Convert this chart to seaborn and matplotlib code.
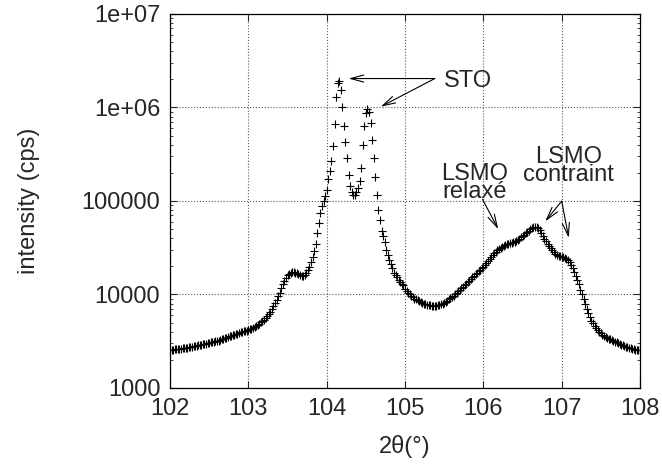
import numpy as np
import pandas as pd
import matplotlib
matplotlib.use('Agg')
from matplotlib import pyplot as plt
from matplotlib.ticker import LogLocator, NullFormatter
import seaborn as sns

two_theta = np.round(np.arange(102.0, 108.0 + 1e-9, 0.02), 2)
intensity = [
    2560, 2570, 2580, 2590, 2600, 2610, 2620, 2640, 2650, 2660,              # 102.00
    2680, 2700, 2720, 2740, 2760, 2780, 2810, 2830, 2860, 2880,              # 102.20
    2900, 2930, 2960, 2990, 3020, 3050, 3080, 3100, 3130, 3160,              # 102.40
    3190, 3220, 3260, 3310, 3360, 3410, 3460, 3510, 3560, 3610,              # 102.60
    3660, 3710, 3760, 3820, 3880, 3930, 3980, 4030, 4080, 4120,              # 102.80
    4160, 4230, 4320, 4420, 4520, 4620, 4740, 4880, 5020, 5180,              # 103.00
    5400, 5630, 5900, 6200, 6550, 7000, 7500, 8100, 8800, 9600,              # 103.20
    10500, 11600, 12800, 14000, 15100, 16000, 16600, 17000, 17200, 17200,    # 103.40
    17100, 16900, 16600, 16200, 15900, 15800, 16200, 17100, 18300, 19800,    # 103.60
    22000, 25000, 29000, 35000, 45000, 58000, 74000, 88000, 99000, 112000,   # 103.80
    130000, 170000, 210000, 270000, 390000, 660000, 1300000, 1850000, 1920000, 1550000,  # 104.00
    1000000, 640000, 430000, 285000, 190000, 145000, 125000, 115000, 116000, 125000,     # 104.20
    138000, 165000, 225000, 400000, 640000, 880000, 965000, 890000, 680000, 450000,      # 104.40
    290000, 180000, 115000, 80000, 62000, 48000, 42000, 36000, 30000, 26500,             # 104.60
    23500, 21000, 19000, 17000, 16000, 15200, 14400, 13700, 13100, 12600,    # 104.80
    11500, 11000, 10500, 10000, 9600, 9300, 9050, 8850, 8650, 8450,          # 105.00
    8300, 8150, 8000, 7900, 7800, 7700, 7650, 7600, 7550, 7550,              # 105.20
    7600, 7650, 7750, 7850, 8000, 8150, 8350, 8600, 8850, 9150,              # 105.40
    9450, 9750, 10100, 10450, 10800, 11200, 11600, 12000, 12500, 13000,      # 105.60
    13500, 14000, 14600, 15200, 15800, 16400, 17000, 17700, 18400, 19100,    # 105.80
    19800, 20700, 21700, 22800, 23900, 25000, 26200, 27500, 28700, 29800,    # 106.00
    30800, 31700, 32500, 33200, 33800, 34300, 34800, 35200, 35600, 36100,    # 106.20
    36700, 37500, 38500, 39600, 40800, 42100, 43500, 45000, 46600, 48200,    # 106.40
    49700, 51100, 52300, 53100, 53000, 51000, 48500, 45500, 42500, 39500,    # 106.60
    37000, 35000, 33200, 31500, 29800, 28500, 27400, 26700, 26100, 25700,    # 106.80
    25300, 24900, 24500, 24000, 23200, 22000, 20800, 19300, 17500, 15800,    # 107.00
    14300, 12800, 11300, 10000, 8900, 7900, 7000, 6300, 5700, 5250,          # 107.20
    4900, 4600, 4350, 4150, 4000, 3850, 3720, 3620, 3530, 3450,              # 107.40
    3380, 3310, 3250, 3190, 3130, 3070, 3010, 2960, 2910, 2860,              # 107.60
    2810, 2770, 2730, 2690, 2660, 2630, 2600, 2580, 2560, 2540,              # 107.80
    2520,                                                                    # 108.00
]

x_ticks = [102, 103, 104, 105, 106, 107, 108]
y_ticks = [1e3, 1e4, 1e5, 1e6, 1e7]
y_tick_labels = ['1000', '10000', '100000', '1e+06', '1e+07']

FS = 17

sns.set_style('ticks')
plt.rcParams['font.family'] = ['Liberation Sans', 'DejaVu Sans']

df = pd.DataFrame({'two_theta': two_theta, 'intensity': intensity})

fig, ax = plt.subplots(figsize=(6.62, 4.65), dpi=100)
fig.subplots_adjust(left=0.2568, right=0.9668, bottom=0.1656, top=0.9699)

sns.scatterplot(data=df, x='two_theta', y='intensity', marker='+', color='black',
                s=30, linewidth=0.8, legend=False, ax=ax, zorder=3)

ax.set_yscale('log')
ax.set_xlim(102, 108)
ax.set_ylim(1e3, 1e7)
ax.set_xticks(x_ticks)
ax.set_xticklabels([str(t) for t in x_ticks])
ax.set_yticks(y_ticks)
ax.set_yticklabels(y_tick_labels)
ax.yaxis.set_minor_locator(LogLocator(base=10, subs=np.arange(2, 10)))
ax.yaxis.set_minor_formatter(NullFormatter())

ax.tick_params(which='both', direction='in', top=True, right=True, labelsize=FS, pad=7)
ax.tick_params(which='major', length=5, width=0.8)
ax.tick_params(which='minor', length=2.5, width=0.6)
for sp in ax.spines.values():
    sp.set_color('black')
    sp.set_linewidth(0.9)

ax.grid(True, which='major', linestyle=':', color='0.35', linewidth=0.8)
ax.set_axisbelow(True)

ax.set_xlabel('2θ(°)', fontsize=FS, labelpad=11)
ax.set_ylabel('intensity (cps)', fontsize=FS, labelpad=30)

# annotations
arrow = dict(arrowstyle='->,head_length=0.55,head_width=0.15', color='black',
             lw=0.8, shrinkA=0, shrinkB=0)
ax.text(105.80, 1.65e6, 'STO', fontsize=FS, ha='center', va='baseline')
ax.annotate('', xy=(104.28, 2.04e6), xytext=(105.38, 2.04e6), arrowprops=arrow, fontsize=FS)
ax.annotate('', xy=(104.69, 1.02e6), xytext=(105.38, 2.04e6), arrowprops=arrow, fontsize=FS)

# two-line labels, y is the baseline of the lower line
ax.text(105.89, 1.08e5, 'LSMO\nrelaxé', fontsize=FS, ha='center', va='baseline',
        linespacing=0.75)
ax.annotate('', xy=(106.19, 5.0e4), xytext=(105.99, 1.04e5), arrowprops=arrow, fontsize=FS)

ax.text(107.09, 1.63e5, 'LSMO\ncontraint', fontsize=FS, ha='center', va='baseline',
        linespacing=0.75)
ax.annotate('', xy=(106.79, 6.06e4), xytext=(107.0, 9.95e4), arrowprops=arrow, fontsize=FS)
ax.annotate('', xy=(107.09, 4.03e4), xytext=(107.0, 9.95e4), arrowprops=arrow, fontsize=FS)

plt.savefig('out.png', dpi=100)
